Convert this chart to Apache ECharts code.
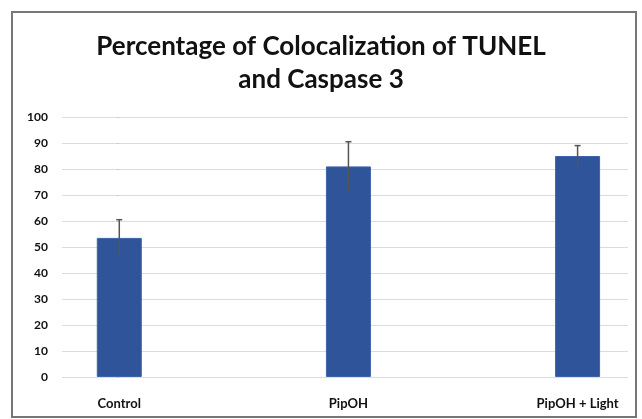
<!DOCTYPE html>
<html lang="en">

<head>
  <meta charset="UTF-8">
  <title>Percentage of Colocalization of TUNEL and Caspase 3</title>
  <style>
    html, body { margin: 0; padding: 0; background: #fff; }
    #root { width: 642px; height: 419px; }
  </style>
</head>

<body>
  <div id="root"></div>
</body>
<script src="https://cdn.jsdelivr.net/npm/echarts@6/dist/echarts.min.js"></script>
<script>
  // data
  const categories = ['Control', 'PipOH', 'PipOH + Light']
  const values = [53.5, 81, 85]
  const errors = [7, 9.5, 4]
  const yTicks = [0, 10, 20, 30, 40, 50, 60, 70, 80, 90, 100]

  let myChart = echarts.init(document.getElementById('root'))

  const font = 'Lato, "Open Sans", sans-serif'

  let option = {
    animation: false,
    title: {
      text: 'Percentage of Colocalization of TUNEL\nand Caspase 3',
      left: 'center',
      top: 25,
      textStyle: {
        fontFamily: font,
        fontSize: 26,
        fontWeight: 'bold',
        color: '#111',
        lineHeight: 33
      }
    },
    graphic: [{
      type: 'rect',
      shape: { x: 12, y: 12, width: 624, height: 405 },
      style: { fill: 'none', stroke: '#777', lineWidth: 2 },
      silent: true
    }],
    grid: { left: 62, right: 14, top: 117, bottom: 42 },
    xAxis: {
      type: 'value',
      min: -0.25,
      max: 2.22,
      splitLine: { show: false },
      axisLine: { show: false },
      axisTick: { show: false },
      axisLabel: {
        customValues: categories.map((c, i) => i),
        formatter: v => categories[v] || '',
        margin: 20,
        fontFamily: font,
        fontSize: 13,
        fontWeight: 'bold',
        color: '#111'
      }
    },
    yAxis: {
      type: 'value',
      min: yTicks[0],
      max: yTicks[yTicks.length - 1],
      interval: 10,
      axisLine: { show: false },
      axisTick: { show: true, length: 3, lineStyle: { color: '#ccc' } },
      axisLabel: {
        margin: 14,
        fontFamily: font,
        fontSize: 12,
        fontWeight: 'bold',
        color: '#111'
      },
      splitLine: { lineStyle: { color: '#dcdcdc', width: 1 } }
    },
    series: [
      {
        type: 'bar',
        barWidth: 45,
        data: values.map((v, i) => [i, v]),
        itemStyle: { color: '#2f549a', borderColor: '#3d63ad', borderWidth: 1 }
      },
      {
        type: 'custom',
        data: values.map((v, i) => [i, v - errors[i], v + errors[i]]),
        renderItem: function (params, api) {
          const lo = api.coord([api.value(0), api.value(1)])
          const hi = api.coord([api.value(0), api.value(2)])
          const cap = 3
          return {
            type: 'group',
            children: [
              { type: 'line', shape: { x1: hi[0], y1: lo[1], x2: hi[0], y2: hi[1] }, style: { stroke: '#555', lineWidth: 1.5 } },
              { type: 'line', shape: { x1: hi[0] - cap, y1: hi[1], x2: hi[0] + cap, y2: hi[1] }, style: { stroke: '#555', lineWidth: 1.5 } }
            ]
          }
        },
        z: 10
      }
    ]
  }

  myChart.setOption(option)
</script>

</html>
